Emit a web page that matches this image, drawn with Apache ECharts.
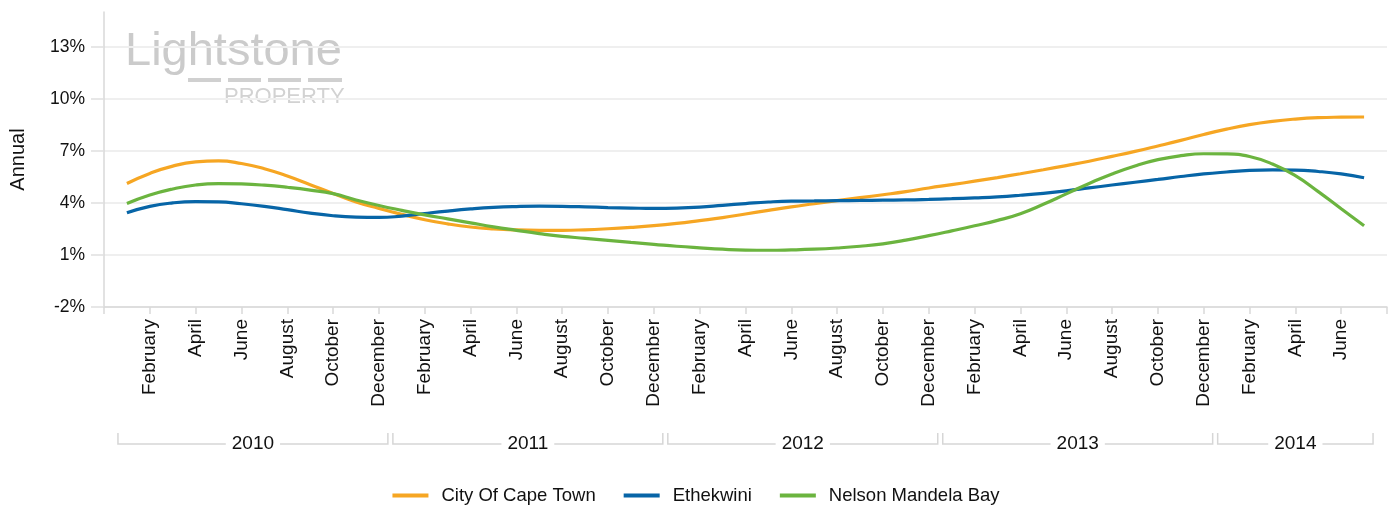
<!DOCTYPE html>
<html><head><meta charset="utf-8">
<script src="https://cdn.jsdelivr.net/npm/echarts@6/dist/echarts.min.js"></script>
<style>html,body{margin:0;padding:0;background:#fff}#chart{width:1392px;height:513px}</style>
</head><body><div id="chart"></div>
<script>
// Month categories (first and last are empty padding months of the axis)
const categories = [
  '2009-12',
  '2010-01','2010-02','2010-03','2010-04','2010-05','2010-06','2010-07','2010-08','2010-09','2010-10','2010-11','2010-12',
  '2011-01','2011-02','2011-03','2011-04','2011-05','2011-06','2011-07','2011-08','2011-09','2011-10','2011-11','2011-12',
  '2012-01','2012-02','2012-03','2012-04','2012-05','2012-06','2012-07','2012-08','2012-09','2012-10','2012-11','2012-12',
  '2013-01','2013-02','2013-03','2013-04','2013-05','2013-06','2013-07','2013-08','2013-09','2013-10','2013-11','2013-12',
  '2014-01','2014-02','2014-03','2014-04','2014-05','2014-06','2014-07',
  '2014-08'
];
const monthNames = ['January','February','March','April','May','June','July','August','September','October','November','December'];
const yearLabels = ['2010','2011','2012','2013','2014'];

// Values Jan 2010 .. Jul 2014 (annual %)
const capeTown = [
  5.12,5.70,6.12,6.36,6.42,6.27,5.97,5.55,5.05,4.54,
  4.05,3.68,3.34,3.03,2.79,2.61,2.50,2.44,2.42,2.42,
  2.45,2.51,2.59,2.69,2.82,2.98,3.15,3.36,3.57,3.77,
  3.95,4.13,4.30,4.47,4.65,4.86,5.05,5.25,5.46,5.68,
  5.91,6.15,6.40,6.68,6.97,7.28,7.60,7.94,8.25,8.51,
  8.70,8.83,8.91,8.94,8.95
];
const ethekwini = [
  3.43,3.80,4.00,4.07,4.06,3.95,3.80,3.61,3.41,3.26,
  3.18,3.16,3.24,3.39,3.53,3.65,3.74,3.79,3.81,3.80,
  3.77,3.73,3.70,3.68,3.70,3.76,3.86,3.96,4.05,4.10,
  4.11,4.13,4.14,4.16,4.17,4.20,4.24,4.29,4.35,4.44,
  4.55,4.69,4.86,5.03,5.19,5.35,5.52,5.67,5.78,5.87,
  5.90,5.89,5.81,5.67,5.45
];
const nelsonMandelaBay = [
  3.96,4.45,4.80,5.03,5.11,5.09,5.02,4.90,4.74,4.53,
  4.17,3.85,3.57,3.31,3.08,2.85,2.62,2.42,2.23,2.07,
  1.96,1.84,1.72,1.61,1.50,1.41,1.33,1.28,1.27,1.29,
  1.33,1.40,1.50,1.64,1.85,2.11,2.39,2.68,2.99,3.38,
  3.92,4.52,5.12,5.67,6.13,6.49,6.72,6.83,6.82,6.67,
  6.24,5.57,4.65,3.66,2.68
];

const seriesNames = ['City Of Cape Town','Ethekwini','Nelson Mandela Bay'];
const seriesValues = [capeTown, ethekwini, nelsonMandelaBay];
const seriesColors = ['#F6A623','#0765A7','#6BB43F'];

const yMin = -2, yMax = 15, yStep = 3;
const FONT = '"Liberation Sans", Arial, sans-serif';

const pad = v => [null].concat(v, [null]);
const monthOf = c => parseInt(c.slice(5), 10);

// year groups over the categories that carry data
const yearGroups = yearLabels.map((y, k) => {
  let s = -1, e = -1;
  for (let i = 1; i < categories.length - 1; i++) {
    if (categories[i].slice(0, 4) === y) { if (s < 0) s = i; e = i; }
  }
  return [s, yMin, e, k];
});

const chart = echarts.init(document.getElementById('chart'), null, {renderer: 'canvas'});

const lineSeries = seriesNames.map((n, i) => ({
  name: n, type: 'line', data: pad(seriesValues[i]),
  smooth: 0.5, showSymbol: false, symbol: 'none',
  lineStyle: {width: 3.2, color: seriesColors[i]},
  itemStyle: {color: seriesColors[i]}, z: 3
}));

const yearSeries = {
  type: 'custom', name: 'years', silent: true, data: yearGroups, z: 1,
  renderItem(params, api) {
    const s = api.value(0), e = api.value(2), k = api.value(3);
    const p0 = api.coord([s, yMin]), p1 = api.coord([e, yMin]);
    const half = api.size([1, 0])[0] / 2;
    const x0 = p0[0] - half + 2.5, x1 = p1[0] + half - 2.5, y = p0[1] + 137;
    return {type: 'group', children: [
      {type: 'polyline', shape: {points: [[x0, y - 11], [x0, y], [x1, y], [x1, y - 11]]},
       style: {stroke: '#d6d6d6', lineWidth: 1.5, fill: null}},
      {type: 'text', x: (x0 + x1) / 2, y: y,
       style: {text: yearLabels[k], align: 'center', verticalAlign: 'middle', fill: '#111',
               font: '19px ' + FONT, backgroundColor: '#fff', padding: [0, 6]}}
    ]};
  }
};

const option = {
  backgroundColor: '#fff',
  animation: false,
  textStyle: {fontFamily: FONT},
  grid: {left: 103, right: 5, top: 12, bottom: 206, containLabel: false},
  legend: {
    data: seriesNames, bottom: 3, left: 'center', icon: 'rect',
    itemWidth: 36, itemHeight: 4, itemGap: 28,
    textStyle: {fontSize: 18.5, color: '#111', fontFamily: FONT, padding: [0, 0, 0, 8]}
  },
  graphic: [
    {type: 'text', left: 125, top: 29, z: 0, silent: true,
     style: {text: 'Lightstone', font: '47px ' + FONT, fill: '#cbcbcb'}},
    {type: 'rect', left: 188, top: 78, z: 0, silent: true, shape: {width: 33, height: 4}, style: {fill: '#d0d0d0'}},
    {type: 'rect', left: 228, top: 78, z: 0, silent: true, shape: {width: 33, height: 4}, style: {fill: '#d0d0d0'}},
    {type: 'rect', left: 268, top: 78, z: 0, silent: true, shape: {width: 33, height: 4}, style: {fill: '#d0d0d0'}},
    {type: 'rect', left: 308, top: 78, z: 0, silent: true, shape: {width: 34, height: 4}, style: {fill: '#d0d0d0'}},
    {type: 'text', left: 224, top: 86, z: 0, silent: true,
     style: {text: 'PROPERTY', font: '22px ' + FONT, fill: '#d2d2d2'}}
  ],
  xAxis: {
    type: 'category', data: categories, boundaryGap: false,
    axisLine: {show: true, onZero: false, lineStyle: {color: '#d9d9d9', width: 1.5}},
    axisTick: {show: true, length: 7, lineStyle: {color: '#d9d9d9', width: 1.5},
               interval: (idx, val) => monthOf(val) % 2 === 0},
    axisLabel: {
      rotate: 90, margin: 12, fontSize: 19, color: '#111', fontFamily: FONT,
      interval: (idx, val) => monthOf(val) % 2 === 0 && idx > 0 && idx < categories.length - 1,
      formatter: v => monthNames[monthOf(v) - 1]
    },
    splitLine: {show: false}
  },
  yAxis: {
    type: 'value', min: yMin, max: yMax, interval: yStep,
    name: 'Annual', nameLocation: 'middle', nameGap: 76, nameRotate: 90,
    nameTextStyle: {fontSize: 20, color: '#111', fontFamily: FONT},
    axisLine: {show: true, lineStyle: {color: '#d9d9d9', width: 1.5}},
    axisTick: {show: true, length: 13, lineStyle: {color: '#e0e0e0', width: 1.5}},
    axisLabel: {margin: 19, fontSize: 17.5, color: '#111', fontFamily: FONT,
                showMaxLabel: false, formatter: '{value}%'},
    splitLine: {show: true, showMaxLine: false, lineStyle: {color: '#efefef', width: 2}}
  },
  series: lineSeries.concat([yearSeries])
};
chart.setOption(option);
</script>
</body></html>
